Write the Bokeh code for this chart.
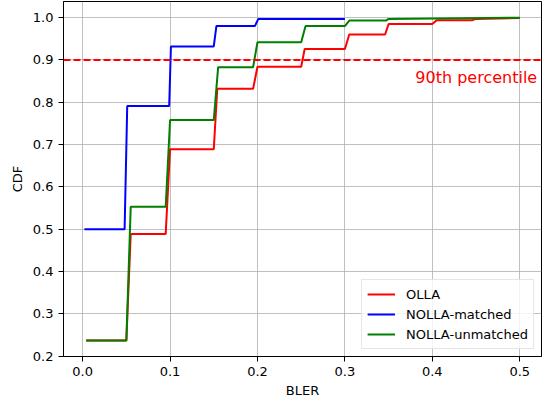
from bokeh.plotting import figure
from bokeh.models import Range1d, FixedTicker, PrintfTickFormatter, Span, Legend, LegendItem, Label
from bokeh.embed import file_html
from bokeh.resources import INLINE

# OLLA (red)
olla_x = [0.004, 0.050, 0.055, 0.095, 0.100, 0.150, 0.154, 0.195, 0.200, 0.250, 0.254,
          0.300, 0.305, 0.346, 0.350, 0.400, 0.405, 0.446, 0.450, 0.500]
olla_y = [0.237, 0.237, 0.489, 0.489, 0.689, 0.689, 0.832, 0.832, 0.884, 0.884, 0.926,
          0.926, 0.960, 0.960, 0.985, 0.985, 0.994, 0.994, 0.997, 0.999]

# NOLLA-matched (blue)
nm_x = [0.002, 0.048, 0.051, 0.099, 0.101, 0.150, 0.153, 0.197, 0.201, 0.300]
nm_y = [0.500, 0.500, 0.791, 0.791, 0.932, 0.932, 0.980, 0.980, 0.997, 0.997]

# NOLLA-unmatched (green)
nu_x = [0.004, 0.050, 0.055, 0.095, 0.100, 0.150, 0.155, 0.195, 0.200, 0.250, 0.255,
        0.300, 0.305, 0.347, 0.350, 0.500]
nu_y = [0.237, 0.237, 0.553, 0.553, 0.758, 0.758, 0.883, 0.883, 0.942, 0.942, 0.980,
        0.980, 0.993, 0.993, 0.997, 1.000]

x_ticks = [0.0, 0.1, 0.2, 0.3, 0.4, 0.5]
y_ticks = [0.2, 0.3, 0.4, 0.5, 0.6, 0.7, 0.8, 0.9, 1.0]
percentile_level = 0.9
percentile_label = "90th percentile"

FONT = "DejaVu Sans"

p = figure(width=551, height=405, output_backend="svg", toolbar_location=None,
           x_range=Range1d(-0.0219, 0.5249), y_range=Range1d(0.1994, 1.0381),
           min_border_left=63, min_border_right=10, min_border_top=1, min_border_bottom=49)

p.outline_line_color = "black"
p.outline_line_alpha = 1.0
p.outline_line_width = 1

for ax, ticks in ((p.xaxis, x_ticks), (p.yaxis, y_ticks)):
    ax.ticker = FixedTicker(ticks=ticks)
    ax.formatter = PrintfTickFormatter(format="%.1f")
    ax.minor_tick_line_color = None
    ax.major_tick_in = 0
    ax.major_tick_out = 5
    ax.major_tick_line_color = "black"
    ax.axis_line_color = "black"
    ax.major_label_text_font = FONT
    ax.major_label_text_font_size = "13px"
    ax.major_label_text_color = "black"
    ax.major_label_standoff = 5
    ax.axis_label_text_font = FONT
    ax.axis_label_text_font_size = "13px"
    ax.axis_label_text_font_style = "normal"
    ax.axis_label_text_color = "black"

p.xaxis.axis_label = "BLER"
p.yaxis.axis_label = "CDF"
p.xaxis.axis_label_standoff = 4
p.yaxis.axis_label_standoff = 5

p.grid.grid_line_color = "#b0b0b0"
p.grid.grid_line_alpha = 0.8
p.grid.grid_line_width = 1

r_olla = p.line(olla_x, olla_y, line_color="#ff0000", line_width=2)
r_nm = p.line(nm_x, nm_y, line_color="#0000ff", line_width=2)
r_nu = p.line(nu_x, nu_y, line_color="#008000", line_width=2)

span = Span(location=percentile_level, dimension="width", line_color="#ff0000",
            line_width=2, line_dash="7 3")
p.add_layout(span)

lab = Label(x=0.52, y=0.859, text=percentile_label, text_color="#ff0000",
            text_font=FONT, text_font_size="16px", text_align="right",
            text_baseline="alphabetic")
p.add_layout(lab)

legend = Legend(items=[LegendItem(label="OLLA", renderers=[r_olla]),
                       LegendItem(label="NOLLA-matched", renderers=[r_nm]),
                       LegendItem(label="NOLLA-unmatched", renderers=[r_nu])],
                location="bottom_right")
legend.label_text_font = FONT
legend.label_text_font_size = "13px"
legend.label_text_color = "black"
legend.glyph_width = 28
legend.glyph_height = 18
legend.label_height = 18
legend.label_standoff = 11
legend.spacing = 2
legend.padding = 5
legend.margin = 7
legend.border_line_color = "#cccccc"
legend.border_line_width = 1
legend.background_fill_color = "white"
legend.background_fill_alpha = 0.8
p.add_layout(legend)

open("out.html", "w").write(file_html(p, INLINE))
